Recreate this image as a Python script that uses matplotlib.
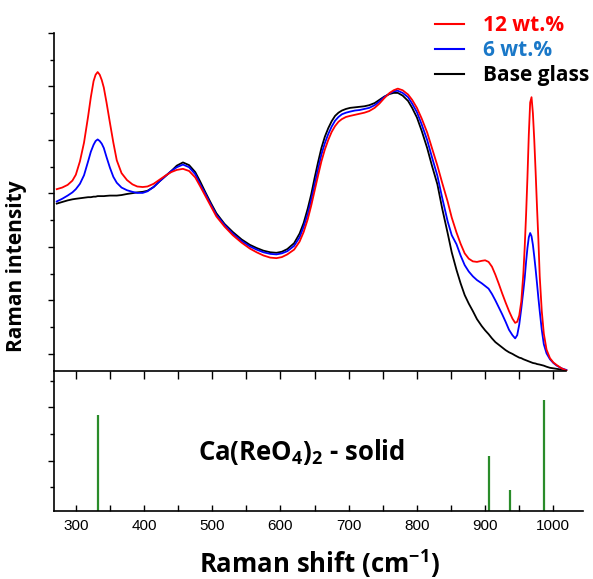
import numpy as np
import matplotlib
matplotlib.use("Agg")
import matplotlib.pyplot as plt
from matplotlib.lines import Line2D
from matplotlib.ticker import MultipleLocator, FixedLocator, NullFormatter

FONT = 'Open Sans'
plt.rcParams['font.family'] = [FONT, 'DejaVu Sans']
plt.rcParams['mathtext.fontset'] = 'custom'
plt.rcParams['mathtext.bf'] = FONT + ':bold'
plt.rcParams['mathtext.rm'] = FONT + ':bold'
plt.rcParams['mathtext.default'] = 'bf'

# ---- data ----
wavenumber = [272, 280, 288, 295, 300, 306, 312, 318, 322, 326,
              329, 332, 335, 338, 341, 345, 350, 355, 360, 367,
              375, 383, 390, 398, 405, 414, 423, 431, 440, 448,
              457, 466, 475, 482, 490, 498, 506, 518, 530, 543,
              555, 565, 575, 585, 594, 602, 610, 620, 628, 634,
              640, 645, 650, 655, 660, 665, 670, 675, 680, 685,
              690, 696, 702, 709, 716, 723, 730, 738, 745, 752,
              760, 766, 772, 779, 787, 793, 800, 807, 815, 822,
              830, 837, 845, 851, 858, 864, 870, 876, 882, 888,
              895, 900, 905, 910, 915, 920, 925, 930, 935, 940,
              944, 947, 950, 953, 956, 958, 960, 962, 964, 966,
              968, 970, 972, 974, 976, 978, 980, 983, 986, 990,
              995, 1000, 1005, 1012, 1019]

base_glass = [2.81, 2.84, 2.87, 2.89, 2.90, 2.91, 2.92, 2.93, 2.93, 2.94,
              2.94, 2.95, 2.95, 2.95, 2.95, 2.955, 2.96, 2.96, 2.96, 2.97,
              2.99, 3.005, 3.02, 3.03, 3.05, 3.12, 3.23, 3.32, 3.42, 3.52,
              3.58, 3.53, 3.40, 3.23, 3.02, 2.82, 2.63, 2.43, 2.28, 2.14,
              2.04, 1.98, 1.93, 1.90, 1.89, 1.91, 1.96, 2.07, 2.25, 2.45,
              2.72, 2.98, 3.29, 3.58, 3.85, 4.06, 4.22, 4.35, 4.45, 4.51,
              4.55, 4.58, 4.60, 4.61, 4.62, 4.63, 4.65, 4.69, 4.75, 4.81,
              4.86, 4.88, 4.88, 4.83, 4.73, 4.60, 4.42, 4.17, 3.85, 3.52,
              3.17, 2.72, 2.26, 1.90, 1.57, 1.32, 1.10, 0.94, 0.80, 0.65,
              0.52, 0.44, 0.37, 0.29, 0.22, 0.17, 0.12, 0.07, 0.03, 0.00,
              -0.03, -0.05, -0.07, -0.08, -0.10, -0.11, -0.12, -0.13, -0.14, -0.15,
              -0.16, -0.17, -0.175, -0.18, -0.19, -0.195, -0.20, -0.21, -0.22, -0.24,
              -0.26, -0.27, -0.28, -0.295, -0.31]

wt12 = [3.08, 3.11, 3.16, 3.24, 3.35, 3.60, 3.95, 4.44, 4.80, 5.10,
        5.22, 5.27, 5.22, 5.12, 4.98, 4.70, 4.32, 3.95, 3.62, 3.38,
        3.25, 3.17, 3.13, 3.12, 3.13, 3.18, 3.26, 3.33, 3.40, 3.44,
        3.46, 3.42, 3.30, 3.14, 2.95, 2.76, 2.57, 2.38, 2.22, 2.08,
        1.97, 1.90, 1.84, 1.80, 1.79, 1.81, 1.86, 1.95, 2.10, 2.28,
        2.52, 2.77, 3.05, 3.33, 3.60, 3.82, 4.00, 4.15, 4.26, 4.34,
        4.39, 4.43, 4.45, 4.47, 4.49, 4.51, 4.54, 4.60, 4.68, 4.78,
        4.88, 4.93, 4.96, 4.93, 4.85, 4.75, 4.60, 4.40, 4.14, 3.85,
        3.52, 3.20, 2.85, 2.55, 2.27, 2.06, 1.88, 1.78, 1.73, 1.72,
        1.74, 1.75, 1.72, 1.63, 1.48, 1.31, 1.13, 0.96, 0.80, 0.66,
        0.58, 0.60, 0.72, 0.98, 1.50, 2.00, 2.60, 3.30, 4.10, 4.70,
        4.80, 4.50, 4.00, 3.40, 2.75, 2.15, 1.45, 0.80, 0.38, 0.08,
        -0.08, -0.16, -0.21, -0.27, -0.31]

wt6 = [2.85, 2.90, 2.96, 3.02, 3.08, 3.18, 3.34, 3.60, 3.78, 3.91,
       3.98, 4.01, 3.98, 3.93, 3.85, 3.68, 3.48, 3.31, 3.20, 3.11,
       3.06, 3.03, 3.01, 3.01, 3.04, 3.12, 3.23, 3.32, 3.42, 3.49,
       3.54, 3.49, 3.36, 3.18, 2.99, 2.79, 2.60, 2.41, 2.25, 2.11,
       2.01, 1.95, 1.90, 1.87, 1.86, 1.88, 1.92, 2.02, 2.18, 2.38,
       2.62, 2.88, 3.17, 3.45, 3.73, 3.94, 4.11, 4.25, 4.36, 4.43,
       4.48, 4.51, 4.53, 4.55, 4.56, 4.58, 4.60, 4.65, 4.72, 4.80,
       4.87, 4.91, 4.92, 4.88, 4.80, 4.68, 4.52, 4.29, 4.00, 3.68,
       3.33, 2.92, 2.48, 2.22, 2.05, 1.84, 1.66, 1.54, 1.45, 1.38,
       1.32, 1.27, 1.22, 1.12, 1.00, 0.87, 0.74, 0.60, 0.45, 0.35,
       0.29, 0.35, 0.55, 0.85, 1.18, 1.42, 1.72, 1.98, 2.18, 2.26,
       2.20, 2.04, 1.82, 1.58, 1.32, 1.05, 0.80, 0.45, 0.18, 0.01,
       -0.10, -0.17, -0.22, -0.27, -0.30]

stick_pos = [332, 906, 936, 986]
stick_height = [1.80, 1.03, 0.39, 2.08]

series_labels = ['12 wt.%', '6 wt.%', 'Base glass']
series_colors = ['#ff0000', '#0000ff', '#000000']
label_colors = ['#ff0000', '#1a78c8', '#000000']
xticks = [300, 400, 500, 600, 700, 800, 900, 1000]

# ---- figure ----
fig = plt.figure(figsize=(5.93, 5.79), dpi=100)
W, H = 593, 579
left, right = 54 / W, 582.7 / W
ax1 = fig.add_axes([left, 1 - 371 / H, right - left, (371 - 33) / H])
ax2 = fig.add_axes([left, 1 - 511 / H, right - left, (511 - 371) / H])
ax2.patch.set_visible(False)

xlim = (268, 1043)
spine_lw = 1.2

ax1.plot(wavenumber, base_glass, color=series_colors[2], lw=1.3)
ax1.plot(wavenumber, wt6, color=series_colors[1], lw=1.3)
ax1.plot(wavenumber, wt12, color=series_colors[0], lw=1.3)

ax1.set_xlim(*xlim)
ax1.set_ylim(-0.32, 6.0)
for sp in ['top', 'right']:
    ax1.spines[sp].set_visible(False)
ax1.spines['left'].set_linewidth(spine_lw)
ax1.spines['bottom'].set_linewidth(spine_lw)
ax1.spines['bottom'].set_bounds(xlim[0], max(wavenumber))
ax1.yaxis.set_major_locator(MultipleLocator(1))
ax1.yaxis.set_minor_locator(MultipleLocator(0.5))
ax1.tick_params(axis='y', which='major', direction='out', length=4.5, width=1.0, labelleft=False)
ax1.tick_params(axis='y', which='minor', direction='out', length=3.0, width=1.0)
ax1.tick_params(axis='x', which='both', bottom=False, labelbottom=False)

# bottom panel
ax2.vlines(stick_pos, 0, stick_height, color='#2a8c2a', lw=1.6)
ax2.set_xlim(*xlim)
ax2.set_ylim(0, 2.62)
for sp in ['top', 'right']:
    ax2.spines[sp].set_visible(False)
ax2.spines['left'].set_linewidth(spine_lw)
ax2.spines['bottom'].set_linewidth(spine_lw)
ax2.yaxis.set_major_locator(FixedLocator([0.94, 1.94]))
ax2.yaxis.set_minor_locator(FixedLocator([0.44, 1.44, 2.44]))
ax2.tick_params(axis='y', which='major', direction='out', length=4.5, width=1.0, labelleft=False)
ax2.tick_params(axis='y', which='minor', direction='out', length=3.0, width=1.0)
ax2.xaxis.set_major_locator(FixedLocator(xticks))
ax2.xaxis.set_minor_locator(MultipleLocator(50))
ax2.tick_params(axis='x', which='both', direction='in', length=4.3, width=1.0, pad=6)
ax2.set_xticklabels([str(t) for t in xticks], family='Liberation Sans', fontsize=11)

# ticks hanging from the separator line
sec = ax2.secondary_xaxis('top')
sec.spines['top'].set_visible(False)
sec.xaxis.set_major_locator(FixedLocator(xticks))
sec.xaxis.set_minor_locator(MultipleLocator(50))
sec.xaxis.set_major_formatter(NullFormatter())
sec.tick_params(axis='x', which='both', direction='in', length=5.8, width=1.0)

ax2.text(0.469, 0.42, 'Ca(ReO$_4$)$_2$ - solid', transform=ax2.transAxes,
         ha='center', va='center', fontsize=18.5, fontweight='bold')

fig.text(320 / W, 1 - 573 / H, 'Raman shift (cm$^{-1}$)', ha='center', va='baseline',
         fontsize=18.5, fontweight='bold')
fig.text(17 / W, 1 - 266 / H, 'Raman intensity', ha='center', va='center',
         rotation=90, fontsize=15, fontweight='bold')

handles = [Line2D([], [], color=c, lw=1.5) for c in series_colors]
leg = fig.legend(handles, series_labels, loc='upper left',
                 bbox_to_anchor=(435 / W, 1 - 15 / H), bbox_transform=fig.transFigure,
                 frameon=False, borderpad=0, borderaxespad=0, handlelength=1.4,
                 handletextpad=0.9, labelspacing=0.2,
                 prop={'weight': 'bold', 'size': 15})
for t, c in zip(leg.get_texts(), label_colors):
    t.set_color(c)

fig.savefig('out.png', dpi=100)
